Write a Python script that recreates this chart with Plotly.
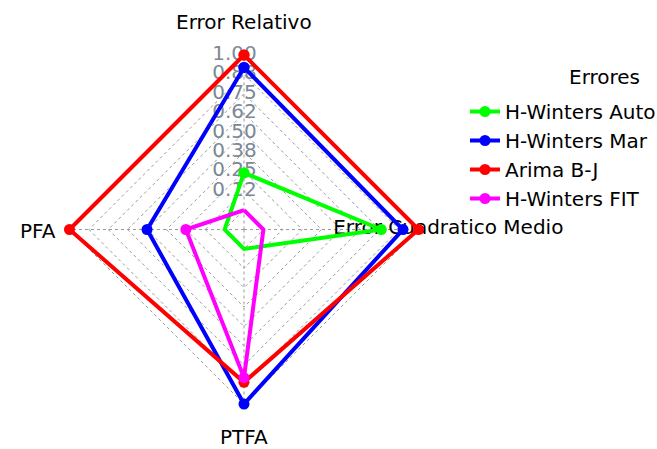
import plotly.graph_objects as go

# Normalised error measures per forecasting method
axes_labels = ["Error Relativo", "Error Cuadratico Medio", "PTFA", "PFA"]
series_names = ["H-Winters Auto", "H-Winters Mar", "Arima B-J", "H-Winters FIT"]
series_colors = ["#00ff00", "#0000ff", "#ff0000", "#ff00ff"]
hw_auto = [0.24, 0.76, 0.00, 0.00]
hw_mar = [0.92, 0.90, 1.00, 0.50]
arima_bj = [1.00, 1.00, 0.86, 1.00]
hw_fit = [0.00, 0.00, 0.83, 0.25]
series_values = [hw_auto, hw_mar, arima_bj, hw_fit]

grid_values = [0, 0.125, 0.25, 0.375, 0.5, 0.625, 0.75, 0.875, 1.0]
grid_labels = [f"{v:.2f}" + "\u00a0" * 3 for v in grid_values]

W, H = 657, 449
FONT = "DejaVu Sans"
GRID = "#9a9a9a"
R_MIN, R_MAX = -0.125, 1.03

fig = go.Figure()

# Radial scale labels along the top spoke (beneath the data)
fig.add_trace(go.Scatterpolar(
    r=grid_values, theta=[axes_labels[0]] * len(grid_values),
    mode="text", text=grid_labels, textposition="middle center",
    textfont=dict(family=FONT, size=20, color="#7b8896"),
    showlegend=False, hoverinfo="skip", cliponaxis=False,
))

# Label of the right-hand spoke, drawn beneath the lines
fig.add_trace(go.Scatterpolar(
    r=[0.45], theta=[axes_labels[1]],
    mode="text", text=[axes_labels[1]], textposition="middle right",
    textfont=dict(family=FONT, size=20, color="black"),
    showlegend=False, hoverinfo="skip", cliponaxis=False,
))

for name, color, vals in zip(series_names, series_colors, series_values):
    fig.add_trace(go.Scatterpolar(
        r=vals + vals[:1], theta=axes_labels + axes_labels[:1],
        mode="lines+markers", name=name,
        line=dict(color=color, width=4),
        marker=dict(color=color, size=11),
        cliponaxis=False,
    ))

# polar frame: centre and the pixel radius of the value 1.0
cx, cy, r_one = 244, 229.5, 174.5
rad = r_one * (R_MAX - R_MIN) / (1 - R_MIN)
fig.update_layout(
    width=W, height=H,
    margin=dict(l=0, r=0, t=0, b=0, autoexpand=False),
    paper_bgcolor="white",
    font=dict(family=FONT, size=20, color="black"),
    polar=dict(
        domain=dict(x=[(cx - rad) / W, (cx + rad) / W],
                    y=[1 - (cy + rad) / H, 1 - (cy - rad) / H]),
        gridshape="linear",
        bgcolor="white",
        angularaxis=dict(rotation=90, direction="clockwise",
                         showticklabels=False, ticks="", showline=False,
                         showgrid=True, gridcolor=GRID, griddash="dot", gridwidth=1),
        radialaxis=dict(range=[R_MIN, R_MAX], tickvals=grid_values,
                        showticklabels=False, ticks="", showline=False,
                        showgrid=True, gridcolor=GRID, griddash="dot", gridwidth=1),
    ),
    legend=dict(x=465 / W, y=1 - 92 / H, xanchor="left", yanchor="top",
                font=dict(family=FONT, size=20, color="black"),
                bgcolor="rgba(0,0,0,0)", itemwidth=30),
    showlegend=True,
    annotations=[
        dict(text="Errores", x=604 / W, y=1 - 77 / H, xref="paper", yref="paper",
             xanchor="center", yanchor="middle", showarrow=False,
             font=dict(family=FONT, size=20, color="black")),
        dict(text=axes_labels[0], x=244 / W, y=1 - 22 / H, xref="paper", yref="paper",
             xanchor="center", yanchor="middle", showarrow=False),
        dict(text=axes_labels[2], x=244 / W, y=1 - 437 / H, xref="paper", yref="paper",
             xanchor="center", yanchor="middle", showarrow=False),
        dict(text=axes_labels[3], x=58 / W, y=1 - 231 / H, xref="paper", yref="paper",
             xanchor="right", yanchor="middle", showarrow=False),
    ],
)

fig.write_html("out.html")
